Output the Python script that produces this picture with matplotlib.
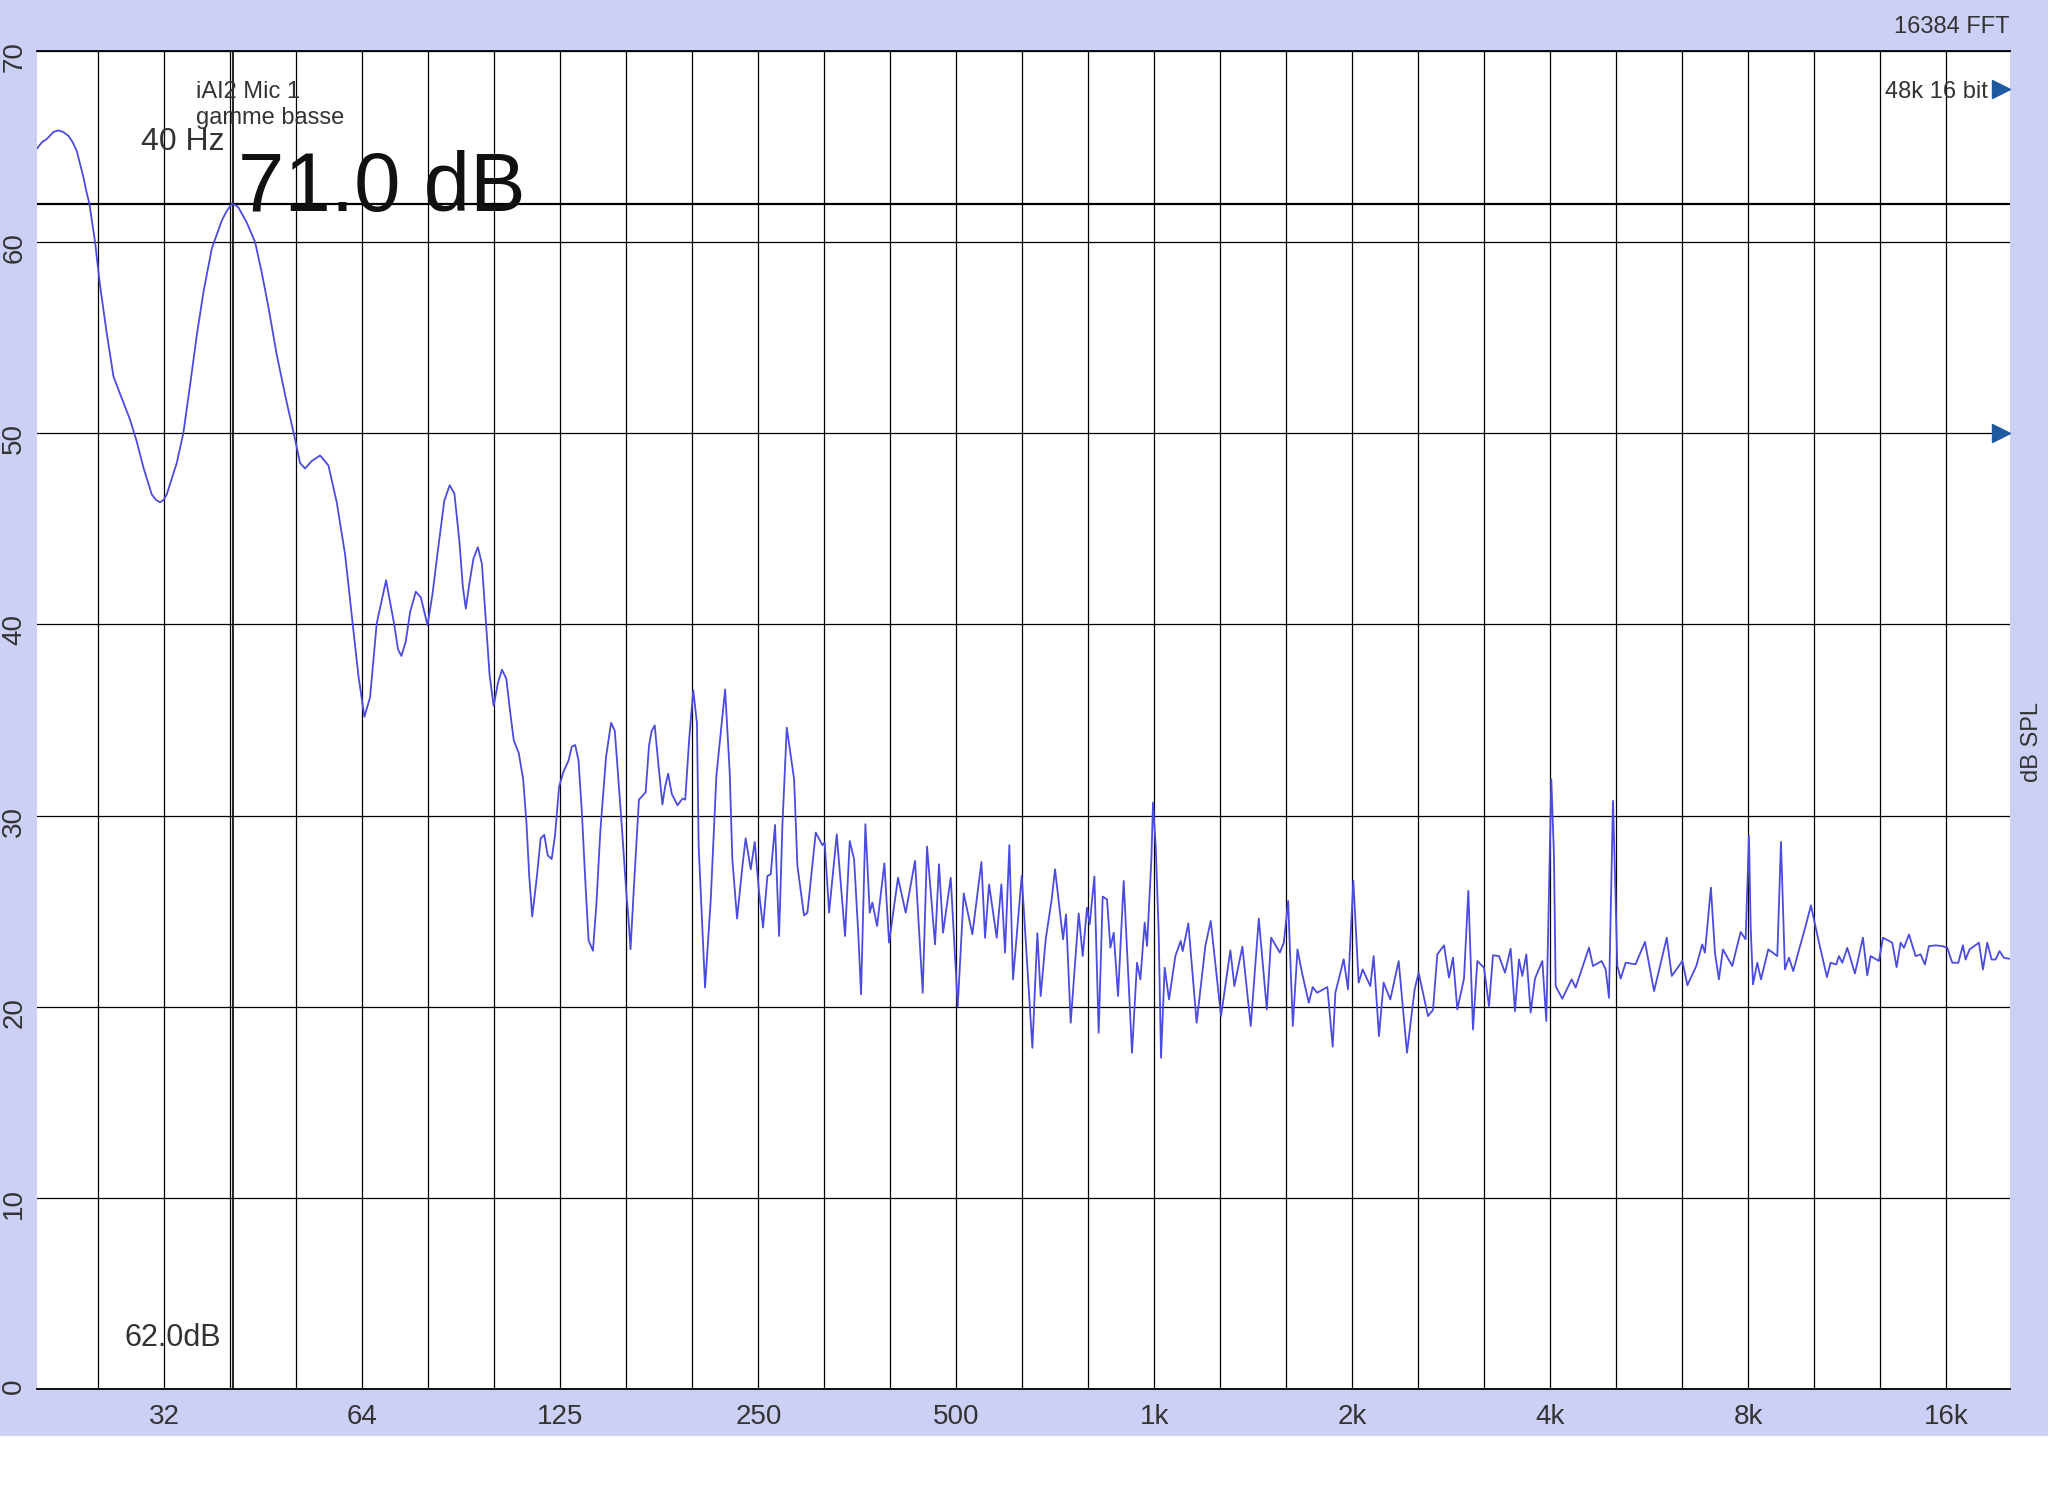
"""Spectrum plot: iAI2 Mic 1, gamme basse (16384 FFT)."""
import matplotlib
matplotlib.use("Agg")
import matplotlib.pyplot as plt
from matplotlib.patches import Rectangle
from matplotlib.ticker import NullLocator

plt.rcParams['font.family'] = ['Liberation Sans', 'DejaVu Sans']

# spectrum (Hz, dB SPL)
freq_hz = [
    20.0, 20.34, 20.7, 21.18, 21.55, 21.93, 22.33, 22.67, 22.99, 23.26,
    23.53, 23.75, 24.03, 24.51, 24.94, 25.53,
    26.14, 26.75, 27.71, 28.36, 29.03, 29.89, 30.35, 30.77, 31.14, 31.5, 32.62, 33.39,
    34.18, 34.99, 35.82, 36.88, 38.19, 38.86, 39.55, 40.02, 40.49, 41.69, 42.92, 43.93,
    44.97, 46.3, 47.95, 49.37, 50.24, 51.13, 52.33, 53.89, 55.48, 57.12,
    58.81, 60.2, 61.62, 62.93, 64.19, 65.7, 67.89,
    69.8, 70.79, 71.62, 72.72, 73.85, 75.34, 76.67, 78.49, 79.89, 81.31,
    83.24, 84.82, 86.23, 87.77, 88.81, 89.75, 90.92, 92.21, 93.63, 94.96,
    96.41, 97.55, 98.94, 100.46, 101.88, 103.45, 104.68, 106.16, 108.05, 109.71,
    111.01, 112.06, 113.24, 114.99, 116.63, 118.14, 119.54, 121.24, 122.68, 124.41,
    126.33, 128.57, 130.08, 131.63, 133.18, 134.76, 136.34, 137.96, 140.08, 141.74,
    143.75, 146.65, 149.26, 151.21, 152.99, 155.16, 157.36, 158.85, 159.78, 161.68,
    164.54, 168.46, 170.45, 172.05, 173.88, 176.14, 178.65, 180.33, 182.25, 184.62,
    188.34, 191.69, 193.51, 196.24, 199.03, 201.62, 202.81,
    204.3, 207.4, 211.6, 215.8, 222.5, 226.1, 228.2, 232.0, 236.4, 239.1,
    243.4, 246.8, 250.6, 254.1, 258.0, 261.0, 265.0, 267.2, 268.8, 271.9,
    276.1, 283.3, 286.6, 293.3, 296.8, 305.6, 312.8, 315.3, 320.2, 328.9,
    338.6, 344.2, 349.5, 354.8, 358.1, 363.6, 369.2, 372.6, 378.8, 388.6,
    395.0, 407.6, 418.7, 432.6, 444.4, 451.2, 464.0, 470.5, 477.2, 490.2,
    502.4, 513.0, 528.8, 545.8, 552.8, 560.6, 575.8, 585.3, 592.9, 601.9,
    609.7, 628.5, 652.4, 663.9, 671.7, 683.6, 698.1, 706.3, 726.4,
    734.0, 746.1, 767.3, 778.1, 790.0, 797.4, 810.6, 822.9, 834.5, 847.3,
    857.3, 867.3, 880.6, 898.2, 924.8, 941.1, 952.2, 966.7, 974.7, 989.6,
    995.3, 1004.7, 1015.3, 1023.6, 1036.8, 1052.7, 1076.3, 1096.5, 1104.3, 1126.3,
    1159.6, 1195.5, 1218.1, 1262.9, 1304.9, 1323.3, 1360.9, 1401.4, 1441.4, 1482.5,
    1505.2, 1551.6, 1573.5, 1597.5, 1623.8, 1650.5, 1676.8, 1717.0, 1741.2, 1767.8,
    1832.7, 1867.1, 1884.6, 1940.3, 1969.9, 2007.1, 2044.8, 2073.6, 2130.0, 2155.0,
    2195.5, 2231.6, 2284.3, 2352.2, 2421.8, 2487.7, 2522.7, 2606.6,
    2652.4, 2693.2, 2756.8, 2805.6, 2845.2, 2888.4, 2956.8, 3002.0, 3051.2, 3098.0,
    3171.2, 3227.2, 3272.8, 3342.0, 3413.2, 3481.2, 3534.4, 3584.4, 3626.4, 3677.6,
    3734.0, 3790.8, 3889.6, 3944.4, 4014.0, 4051.6, 4075.6, 4171.6, 4310.0, 4370.8,
    4580.0, 4644.4, 4787.6, 4855.2, 4912.0, 4981.6, 5010.8, 5058.0, 5117.2, 5207.6,
    5391.2, 5571.6, 5752.0, 6013.6, 6120.0, 6352.0, 6464.0, 6668.4, 6809.2, 6873.2,
    7018.8, 7118.0, 7218.0, 7319.6, 7562.4, 7788.0, 7926.0, 8019.2, 8066.4, 8132.4,
    8256.4, 8363.2, 8580.0, 8855.6, 8969.6, 9094.8, 9223.2,
    9365, 9497, 9778, 9962, 10222, 10536, 10672, 10886, 10989, 11118,
    11314, 11621, 11952, 12134, 12277, 12640, 12818, 13244, 13447, 13637,
    13796, 14041, 14372, 14626, 14848, 15058, 15414, 15778, 16056, 16340,
    16686, 16960, 17120, 17362, 17939, 18192, 18470, 18751, 19015, 19283,
    19578, 19925,
]
spl_db = [
    64.9, 65.22, 65.4, 65.76, 65.85, 65.76, 65.56, 65.22, 64.76, 64.08,
    63.4, 62.72, 62.0, 60.0, 57.73, 55.24,
    52.97, 52.06, 50.7, 49.57, 48.21, 46.8, 46.51, 46.39, 46.51, 46.8, 48.44, 50.02,
    52.52, 55.12, 57.39, 59.66, 61.13, 61.63, 62.0, 61.95, 61.81, 61.02, 60.0, 58.41,
    56.6, 54.1, 51.61, 49.68, 48.44, 48.16, 48.55, 48.84, 48.32, 46.39,
    43.67, 40.5, 37.32, 35.17, 36.19, 40.05, 42.31,
    40.06, 38.7, 38.35, 39.09, 40.64, 41.71, 41.42, 39.96, 41.61, 43.75,
    46.47, 47.28, 46.85, 44.33, 42.0, 40.83, 42.19, 43.46, 44.04, 43.17,
    39.86, 37.34, 35.75, 36.95, 37.63, 37.15, 35.59, 33.94, 33.26, 31.9,
    29.57, 26.85, 24.72, 26.66, 28.8, 28.99, 27.92, 27.73, 28.99, 31.51,
    32.29, 32.87, 33.61, 33.69, 32.87, 30.16, 26.66, 23.46, 22.93, 25.3,
    29.18, 33.07, 34.85, 34.43, 32.1, 29.18, 26.08, 24.33, 23.01, 26.27,
    30.83, 31.22, 33.65, 34.43, 34.72, 32.68, 30.58, 31.51, 32.19, 31.13,
    30.54, 30.89, 30.83, 34.04, 36.56, 34.82, 28.41,
    25.97, 21.0, 25.62, 32.08, 36.6, 32.25, 27.71, 24.61, 27.36, 28.81,
    27.19, 28.62, 25.97, 24.14, 26.84, 26.93, 29.51, 25.97, 23.7, 29.46,
    34.6, 31.9, 27.36, 24.78, 24.92, 29.11, 28.45, 28.59, 24.92, 29.02,
    23.7, 28.67, 27.71, 23.7, 20.65, 29.55, 24.92, 25.45, 24.22, 27.5,
    23.35, 26.75, 24.92, 27.63, 20.73, 28.38, 23.26, 27.45, 23.87, 26.75,
    20.03, 25.93, 23.79, 27.57, 23.61, 26.4, 23.61, 26.4, 22.83, 28.45,
    21.43, 26.84, 17.85, 23.84, 20.56, 23.53, 25.62, 27.19, 23.53,
    24.83, 19.16, 24.88, 22.65, 25.18, 24.31, 26.81, 18.64, 25.76, 25.62,
    23.09, 23.87, 20.56, 26.58, 17.59, 22.3, 21.43, 24.4, 23.18, 27.71,
    30.68, 28.41, 23.87, 17.33, 22.04, 20.38, 22.65, 23.44, 22.91, 24.36,
    19.16, 23.18, 24.49, 19.51, 22.95, 21.08, 23.14, 18.99, 24.61, 19.86,
    23.61, 22.83, 23.35, 25.53, 18.99, 23.0, 21.78, 20.21, 21.03, 20.73,
    21.03, 17.91, 20.73, 22.48, 20.91, 26.58, 21.26, 21.95, 21.08, 22.65,
    18.46, 21.26, 20.38, 22.39, 17.59, 20.91, 21.78, 19.51,
    19.83, 22.74, 23.21, 21.52, 22.57, 19.86, 21.47, 26.06, 18.81, 22.39,
    22.04, 20.03, 22.69, 22.65, 21.78, 23.04, 19.77, 22.48, 21.61, 22.74,
    19.69, 21.47, 22.39, 19.25, 31.9, 27.89, 21.08, 20.42, 21.43, 21.0,
    23.09, 22.13, 22.39, 21.95, 20.47, 30.77, 27.54, 22.13, 21.47, 22.3,
    22.22, 23.39, 20.82, 23.61, 21.61, 22.39, 21.12, 22.13, 23.26, 22.83,
    26.23, 22.83, 21.43, 23.0, 22.13, 23.91, 23.53, 28.94, 24.22, 21.17,
    22.3, 21.43, 23.0, 22.65, 28.62, 21.95, 22.57,
    21.86, 22.65, 24.22, 25.3, 23.52, 21.55, 22.3, 22.21, 22.65, 22.3,
    23.08, 21.74, 23.61, 21.64, 22.65, 22.39, 23.61, 23.35, 22.07, 23.35,
    23.08, 23.78, 22.65, 22.74, 22.21, 23.17, 23.21, 23.17, 23.08, 22.3,
    22.3, 23.21, 22.47, 23.0, 23.35, 21.95, 23.35, 22.47, 22.47, 22.91,
    22.56, 22.51,
]

# third-octave grid, labelled every octave
grid_hz = [1000 * 2 ** (n / 3) for n in range(-16, 13)]
tick_hz = [31.25, 62.5, 125, 250, 500, 1000, 2000, 4000, 8000, 16000]
tick_labels = ['32', '64', '125', '250', '500', '1k', '2k', '4k', '8k', '16k']
db_ticks = [0, 10, 20, 30, 40, 50, 60, 70]

cursor_hz = 39.7
cursor_db = 62.0
marker_db = [68, 50]

W, H = 2048, 1496
LAVENDER = '#ccd0f5'
CURVE = '#4b4be0'
TXT = '#333333'

fig = plt.figure(figsize=(W / 100, H / 100), dpi=100, facecolor='white')
fig.patches.append(Rectangle((0, 1 - 1436 / H), 1, 1436 / H, transform=fig.transFigure,
                             facecolor=LAVENDER, edgecolor='none', zorder=-1))

ax = fig.add_axes([37 / W, 107 / H, 1973 / W, 1338 / H])
ax.set_facecolor('white')
ax.set_xscale('log')
ax.set_xlim(20, 20000)
ax.set_ylim(0, 70)

for f in grid_hz:
    ax.axvline(f, color='black', lw=0.9, zorder=1)
for d in db_ticks:
    ax.axhline(d, color='black', lw=0.9, zorder=1)
ax.axvline(cursor_hz, color='black', lw=1.2, zorder=1)
ax.axhline(cursor_db, color='black', lw=1.6, zorder=1)

ax.plot(freq_hz, spl_db, color=CURVE, lw=1.3, zorder=3)

for d in marker_db:
    ax.plot([0.9952], [d], marker='>', ms=13, color='#1f5aa0', ls='none',
            transform=ax.get_yaxis_transform(), clip_on=False, zorder=4)

for s in ['left', 'right']:
    ax.spines[s].set_visible(False)
for s in ['top', 'bottom']:
    ax.spines[s].set_linewidth(1.3)

ax.set_xticks(tick_hz, tick_labels)
ax.xaxis.set_minor_locator(NullLocator())
ax.set_yticks(db_ticks)
ax.tick_params(axis='x', length=0, pad=11, labelsize=20, labelcolor=TXT)
ax.tick_params(axis='y', length=0, pad=7, labelsize=20, labelcolor=TXT, labelrotation=90)


def put(x, y, s, **kw):
    fig.text(x / W, 1 - y / H, s, **kw)


put(196, 98, 'iAI2 Mic 1', fontsize=17, color=TXT, va='baseline')
put(196, 124, 'gamme basse', fontsize=17, color=TXT, va='baseline')
put(141, 150, '40 Hz', fontsize=23, color=TXT, va='baseline')
put(238, 211, '71.0 dB', fontsize=60, color='#111111', va='baseline')
put(124, 1346, '62.0dB', fontsize=22, color=TXT, va='baseline')
put(2009, 33, '16384 FFT', fontsize=17, color=TXT, ha='right', va='baseline')
put(1988, 98, '48k 16 bit', fontsize=17, color=TXT, ha='right', va='baseline')
put(2032, 742, 'dB SPL', fontsize=17, color=TXT, ha='center', va='center', rotation=90)

fig.savefig('out.png', dpi=100)
